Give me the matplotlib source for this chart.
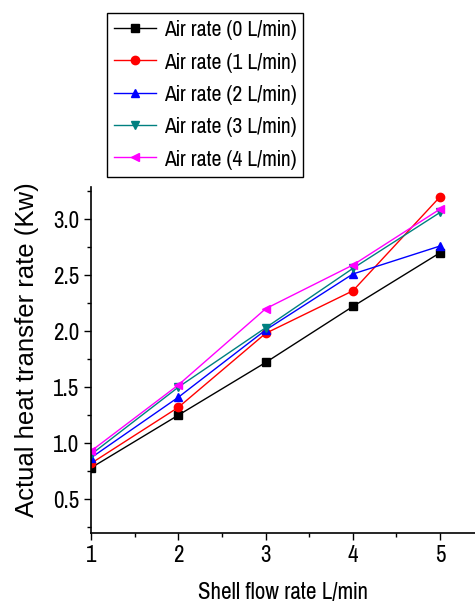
import matplotlib.pyplot as plt
from matplotlib.ticker import MultipleLocator

# shell-side flow rate (L/min) and measured heat transfer rate (kW)
shell_flow = [1, 2, 3, 4, 5]
q_air0 = [0.78, 1.25, 1.72, 2.22, 2.70]
q_air1 = [0.82, 1.32, 1.98, 2.36, 3.20]
q_air2 = [0.87, 1.41, 2.01, 2.51, 2.76]
q_air3 = [0.90, 1.50, 2.03, 2.56, 3.06]
q_air4 = [0.93, 1.52, 2.20, 2.59, 3.09]

labels = ['Air rate (0 L/min)', 'Air rate (1 L/min)', 'Air rate (2 L/min)',
          'Air rate (3 L/min)', 'Air rate (4 L/min)']
colors = ['black', 'red', 'blue', '#008080', 'magenta']
markers = ['s', 'o', '^', 'v', '<']

narrow = ['Pragati Narrow', 'Roboto Condensed', 'Liberation Sans', 'DejaVu Sans']
wide = ['Liberation Sans', 'DejaVu Sans']
plt.rcParams['font.family'] = narrow

fig = plt.figure(figsize=(4.75, 6.05), dpi=100)
ax = fig.add_axes([0.192, 0.1195, 0.808, 0.572])

series = [q_air0, q_air1, q_air2, q_air3, q_air4]
for ys, lab, c, m in zip(series, labels, colors, markers):
    ax.plot(shell_flow, ys, color=c, marker=m, markersize=6, linewidth=1, label=lab)

ax.set_xlim(1, 5.4)
ax.set_ylim(0.2, 3.29)
ax.xaxis.set_major_locator(MultipleLocator(1))
ax.xaxis.set_minor_locator(MultipleLocator(0.5))
ax.yaxis.set_major_locator(MultipleLocator(0.5))
ax.yaxis.set_minor_locator(MultipleLocator(0.25))
ax.tick_params(which='both', direction='out', labelsize=18, width=1)
ax.tick_params(which='major', length=5)
ax.tick_params(which='minor', length=3)
ax.spines['top'].set_visible(False)
ax.spines['right'].set_visible(False)
for s in ('left', 'bottom'):
    ax.spines[s].set_linewidth(1.2)

ax.set_xlabel('Shell flow rate L/min', fontsize=18, labelpad=12)
ax.set_ylabel('Actual heat transfer rate (Kw)', fontsize=18.5, family=wide)
ax.yaxis.set_label_coords(-0.135, 0.53)

leg = fig.legend(loc='upper left', bbox_to_anchor=(0.225, 0.979), fontsize=17,
                 frameon=True, fancybox=False, edgecolor='black', framealpha=1,
                 handlelength=1.8, handletextpad=0.3, borderpad=0.3,
                 labelspacing=0.5, borderaxespad=0)
leg.get_frame().set_linewidth(1)

fig.savefig('out.png', dpi=100)
